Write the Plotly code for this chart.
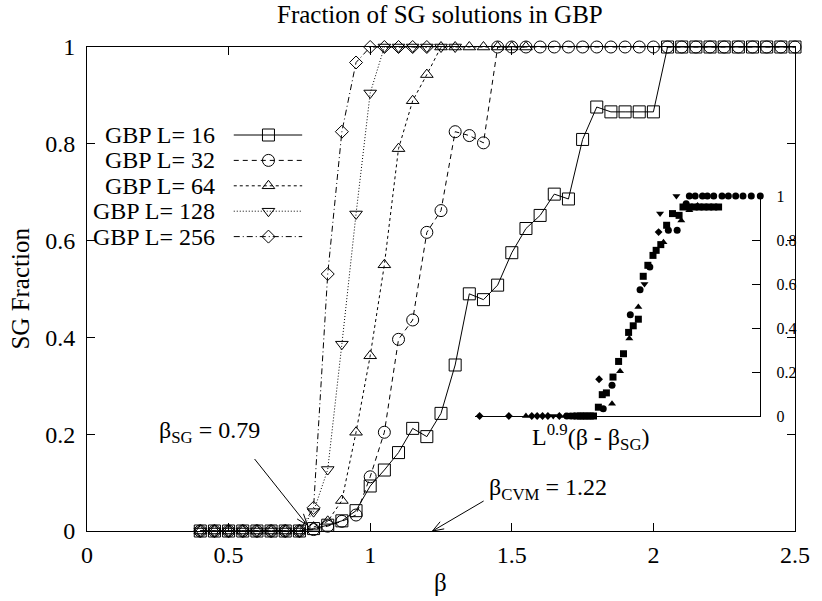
import math
import plotly.graph_objects as go

# ---------------- data: fraction of spin-glass solutions found by GBP ----------------
beta = [0.40, 0.45, 0.50, 0.55, 0.60, 0.65, 0.70, 0.75, 0.80, 0.85, 0.90, 0.95,
        1.00, 1.05, 1.10, 1.15, 1.20, 1.25, 1.30, 1.35, 1.40, 1.45, 1.50, 1.55,
        1.60, 1.65, 1.70, 1.75, 1.80, 1.85, 1.90, 1.95, 2.00, 2.05, 2.10, 2.15,
        2.20, 2.25, 2.30, 2.35, 2.40, 2.45, 2.50]

frac_L16 = [0, 0, 0, 0, 0, 0, 0, 0,
            0.005, 0.012, 0.021, 0.042, 0.093, 0.126, 0.162, 0.212, 0.195, 0.243,
            0.343, 0.490, 0.478, 0.508, 0.575, 0.625, 0.652, 0.696, 0.686, 0.809,
            0.876, 0.866, 0.866, 0.866, 0.866,
            1, 1, 1, 1, 1, 1, 1, 1, 1, 1]

frac_L32 = [0, 0, 0, 0, 0, 0, 0, 0,
            0.003, 0.010, 0.020, 0.033, 0.112, 0.204, 0.396, 0.436, 0.617, 0.662,
            0.825, 0.817, 0.802,
            1, 1, 1, 1, 1, 1, 1, 1, 1, 1, 1, 1, 1, 1, 1, 1, 1, 1, 1, 1, 1, 1]

frac_L64 = [0, 0, 0, 0, 0, 0, 0, 0,
            0.008, 0.020, 0.063, 0.204, 0.362, 0.550, 0.790, 0.889, 0.943,
            1, 1, 1, 1, 1, 1, 1]

frac_L128 = [0, 0, 0, 0, 0, 0, 0, 0,
             0.040, 0.127, 0.386, 0.655, 0.905,
             1, 1, 1, 1, 1, 1]

frac_L256 = [0, 0, 0, 0, 0, 0, 0, 0,
             0.048, 0.531, 0.825, 0.968,
             1, 1, 1, 1, 1]

sizes = [16, 32, 64, 128, 256]
fractions = [frac_L16, frac_L32, frac_L64, frac_L128, frac_L256]

beta_SG = 0.79
beta_CVM = 1.22

# ---------------- data: finite-size scaling collapse (inset) ----------------
col_x_circle = [-1.49, -1.33, -1.20, 0.00, 0.36, 1.11, 1.51, 1.91, 2.67, 3.03, 3.40,
                3.53, 3.77, 4.07, 4.27, 4.53, 4.87, 5.13, 5.43, 5.73, 6.07, 6.44]
col_y_circle = [0, 0, 0, 0.033, 0.140, 0.460, 0.574, 0.677, 0.844, 0.844, 0.965,
                1, 1, 1, 1, 1, 1, 1, 1, 1, 1, 1]

col_x_square = [-1.07, -0.93, -0.80, -0.67, -0.53, -0.40, -0.20, -0.04, 0.13, 0.40,
                0.63, 0.83, 1.04, 1.23, 1.44, 1.64, 1.83, 2.04, 2.17, 2.36, 2.60,
                2.84, 3.11, 3.27, 3.53, 3.73, 3.93, 4.13, 4.33, 4.53, 4.73]
col_y_square = [0, 0, 0, 0, 0, 0, 0.040, 0.097, 0.105, 0.177,
                0.248, 0.283, 0.380, 0.410, 0.440, 0.635, 0.685, 0.730, 0.753, 0.779, 0.867,
                0.920, 0.912, 0.950, 0.950, 0.950, 0.950, 0.950, 0.950, 0.950, 0.950]

col_x_tri_up = [-3.17, -1.56, 0.36, 0.69, 1.07, 1.44, 2.47, 3.20, 3.53, 3.87]
col_y_tri_up = [0, 0, 0.056, 0.203, 0.352, 0.495, 0.790, 0.889, 0.935, 0.957]

col_x_tri_down = [-2.05, -1.30, 1.69, 2.33, 3.00]
col_y_tri_down = [0, 0, 0.600, 0.920, 1.0]

col_x_diamond = [-5.07, -3.87, -2.93, -2.71, -2.49, -2.27, -1.80, -0.17, 2.27]
col_y_diamond = [0, 0, 0, 0, 0, 0, 0, 0.167, 0.836]

inset_x_range = [-5.27, 6.44]

# ---------------- layout geometry (pixels) ----------------
W, H = 822, 601
PL, PR, PT, PB = 87, 801, 47, 531          # main plot area
X_RANGE = [0, 2.5]
Y_RANGE = [0, 1]
INSET = dict(left=478, right=766, top=196, bottom=416)

FONT = "Liberation Serif"
FS = 24
FS_TITLE = 25


def paper_x(px):
    return (px - PL) / (PR - PL)


def paper_y(py):
    return (PB - py) / (PB - PT)


def data_px(x, y):
    px = PL + (x - X_RANGE[0]) / (X_RANGE[1] - X_RANGE[0]) * (PR - PL)
    py = PB - (y - Y_RANGE[0]) / (Y_RANGE[1] - Y_RANGE[0]) * (PB - PT)
    return px, py


styles = [
    dict(symbol="square-open", size=12, dash="solid"),
    dict(symbol="circle-open", size=12, dash="5px,4px"),
    dict(symbol="triangle-up-open", size=11, dash="3px,3px"),
    dict(symbol="triangle-down-open", size=11, dash="1px,2px"),
    dict(symbol="diamond-open", size=10, dash="6px,3px,1px,3px"),
]

fig = go.Figure()

# main curves
for L, frac, st in zip(sizes, fractions, styles):
    fig.add_trace(go.Scatter(
        x=beta[:len(frac)], y=frac, mode="lines+markers",
        name=f"GBP L= {L}",
        line=dict(color="black", width=1, dash=st["dash"]),
        marker=dict(symbol=st["symbol"], size=st["size"], color="black",
                    line=dict(color="black", width=1)),
        cliponaxis=False, showlegend=False,
        xaxis="x", yaxis="y",
    ))

# inset: scaling collapse
inset_sets = [
    (col_x_circle, col_y_circle, "circle", 7),
    (col_x_square, col_y_square, "square", 7),
    (col_x_tri_up, col_y_tri_up, "triangle-up", 7),
    (col_x_tri_down, col_y_tri_down, "triangle-down", 7),
    (col_x_diamond, col_y_diamond, "diamond", 6),
]
for xs, ys, sym, sz in inset_sets:
    fig.add_trace(go.Scatter(
        x=xs, y=ys, mode="markers",
        marker=dict(symbol=sym, size=sz, color="black", line=dict(width=0)),
        cliponaxis=False, showlegend=False, xaxis="x2", yaxis="y2",
    ))

# hand-drawn key: text on the left, line sample with symbol on the right
key_rows = [135 + 25.4 * i for i in range(len(sizes))]
key_text_right, key_line_left, key_line_right, key_mark = 218, 235, 304, 270
annotations = []
for L, st, ry in zip(sizes, styles, key_rows):
    fig.add_trace(go.Scatter(
        x=[paper_x(key_line_left), paper_x(key_line_right)],
        y=[paper_y(ry), paper_y(ry)], mode="lines",
        line=dict(color="black", width=1, dash=st["dash"]),
        showlegend=False, hoverinfo="skip", xaxis="x3", yaxis="y3",
    ))
    fig.add_trace(go.Scatter(
        x=[paper_x(key_mark)], y=[paper_y(ry)], mode="markers",
        marker=dict(symbol=st["symbol"], size=st["size"], color="black",
                    line=dict(color="black", width=1)),
        showlegend=False, hoverinfo="skip", xaxis="x3", yaxis="y3",
        cliponaxis=False,
    ))
    annotations.append(dict(
        x=paper_x(key_text_right), y=paper_y(ry), xref="paper", yref="paper",
        text=f"GBP L= {L}", showarrow=False, xanchor="right", yanchor="middle",
        font=dict(family=FONT, size=FS, color="black"),
    ))


def label(px, py, text, size=FS, **kw):
    d = dict(x=paper_x(px), y=paper_y(py), xref="paper", yref="paper",
             text=text, showarrow=False, xanchor="center", yanchor="middle",
             font=dict(family=FONT, size=size, color="black"))
    d.update(kw)
    return d


# titles and labels
annotations += [
    label(443, 14, "Fraction of SG solutions in GBP", size=FS_TITLE),
    label(443, 582, "β", size=FS_TITLE),
    label(19, 289, "SG Fraction", size=FS_TITLE, textangle=-90),
    label(595, 437, "L<sup>0.9</sup>(β - β<sub>SG</sub>)"),
    label(211, 432, f"β<sub>SG</sub> = {beta_SG}"),
    label(552, 489, f"β<sub>CVM</sub> = {beta_CVM}"),
]

# arrows with open heads
shapes = []


def arrow(tail_px, tip_px, head=12, half_angle=20):
    tx, ty = tail_px
    hx, hy = tip_px
    ang = math.atan2(ty - hy, tx - hx)
    segs = [((tx, ty), (hx, hy))]
    for s in (-1, 1):
        a = ang + s * math.radians(half_angle)
        segs.append(((hx, hy), (hx + head * math.cos(a), hy + head * math.sin(a))))
    for (x0, y0), (x1, y1) in segs:
        shapes.append(dict(type="line", xref="paper", yref="paper",
                           x0=paper_x(x0), y0=paper_y(y0),
                           x1=paper_x(x1), y1=paper_y(y1),
                           line=dict(color="black", width=1)))


arrow((256, 459), data_px(beta_SG - 0.012, 0.012))
arrow((487, 501), data_px(beta_CVM, 0.0))

axis_common = dict(showline=True, linecolor="black", linewidth=1, mirror="ticks",
                   ticks="inside", ticklen=8, tickcolor="black", tickwidth=1,
                   showgrid=False, zeroline=False,
                   tickfont=dict(family=FONT, size=FS, color="black"))

xt = [0, 0.5, 1, 1.5, 2, 2.5]
yt = [0, 0.2, 0.4, 0.6, 0.8, 1]

fig.update_layout(
    width=W, height=H,
    margin=dict(l=PL, r=W - PR, t=PT, b=H - PB),
    paper_bgcolor="white", plot_bgcolor="rgba(0,0,0,0)",
    xaxis=dict(range=X_RANGE, domain=[0, 1], anchor="y",
               tickvals=xt, ticktext=[f"{v:g}" for v in xt],
               ticklabelstandoff=2, **axis_common),
    yaxis=dict(range=Y_RANGE, domain=[0, 1], anchor="x",
               tickvals=yt, ticktext=[f"{v:g}" for v in yt],
               ticklabelstandoff=6, **axis_common),
    xaxis2=dict(range=inset_x_range, anchor="y2",
                domain=[paper_x(INSET["left"]), paper_x(INSET["right"])],
                showline=True, linecolor="black", linewidth=1, ticks="",
                showticklabels=False, showgrid=False, zeroline=False),
    yaxis2=dict(range=[0, 1], anchor="x2", side="right",
                domain=[paper_y(INSET["bottom"]), paper_y(INSET["top"])],
                showline=True, linecolor="black", linewidth=1,
                ticks="inside", ticklen=8, tickcolor="black",
                tickvals=yt, ticktext=[f"{v:g}" for v in yt],
                ticklabelstandoff=12,
                tickfont=dict(family=FONT, size=16, color="black"),
                showgrid=False, zeroline=False),
    xaxis3=dict(range=[0, 1], domain=[0, 1], anchor="y3", visible=False,
                fixedrange=True),
    yaxis3=dict(range=[0, 1], domain=[0, 1], anchor="x3", visible=False,
                fixedrange=True),
    annotations=annotations,
    shapes=shapes,
    showlegend=False,
)

fig.write_html("out.html")
